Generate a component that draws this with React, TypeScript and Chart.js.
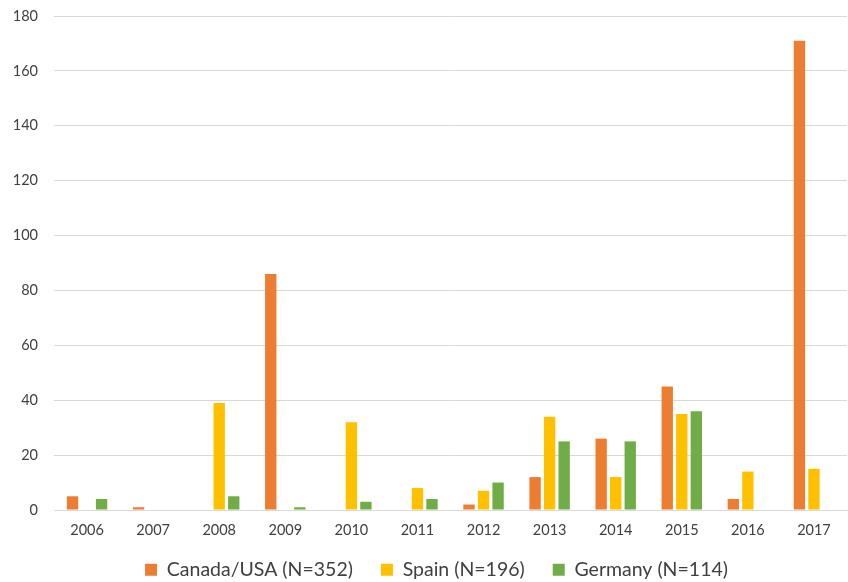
import React, { useEffect, useRef } from "react";
import { Chart, registerables } from "chart.js";

Chart.register(...registerables);

const years = ["2006", "2007", "2008", "2009", "2010", "2011", "2012", "2013", "2014", "2015", "2016", "2017"];
const canadaUsa = [5, 1, 0, 86, 0, 0, 2, 12, 26, 45, 4, 171];
const spain = [0, 0, 39, 0, 32, 8, 7, 34, 12, 35, 14, 15];
const germany = [4, 0, 5, 1, 3, 4, 10, 25, 25, 36, 0, 0];
const seriesLabels = ["Canada/USA (N=352)", "Spain (N=196)", "Germany (N=114)"];
const yMax = 180;
const yStep = 20;

const FONT = "Lato, 'Open Sans', sans-serif";

// nudges the legend row to the reference's place (text centre y≈568, centre x≈437)
const legendNudge = {
  id: "legendNudge",
  afterLayout(chart: any) {
    const lg = chart.legend;
    if (!lg) return;
    const dy = -10;
    const dx = 13;
    lg.top += dy;
    lg.left += dx;
    lg.right += dx;
  },
};

export default function App() {
  const ref = useRef<HTMLCanvasElement | null>(null);
  useEffect(() => {
    document.body.style.margin = "0";
    const ctx = ref.current!;
    const chart = new Chart(ctx, {
      type: "bar",
      data: {
        labels: years,
        datasets: [
          { label: seriesLabels[0], data: canadaUsa, backgroundColor: "#ED7D31" },
          { label: seriesLabels[1], data: spain, backgroundColor: "#FFC000" },
          { label: seriesLabels[2], data: germany, backgroundColor: "#70AD47" },
        ],
      },
      plugins: [legendNudge],
      options: {
        responsive: false,
        animation: false,
        maintainAspectRatio: false,
        datasets: { bar: { categoryPercentage: 0.66, barPercentage: 0.78 } },
        layout: { padding: { top: 16, right: 1, left: 0, bottom: 0 } },
        plugins: {
          tooltip: { enabled: false },
          legend: {
            position: "bottom",
            maxHeight: 40,
            labels: {
              color: "#404040",
              font: { family: FONT, size: 19.5 },
              boxWidth: 12,
              boxHeight: 12,
              padding: 28,
            },
          },
        },
        scales: {
          x: {
            grid: { display: false, drawTicks: false },
            border: { display: true, color: "#d9d9d9", width: 1 },
            ticks: { color: "#404040", font: { family: FONT, size: 14.5 }, padding: 12, maxRotation: 0 },
            afterFit: (s: any) => { s.height = 32; },
          },
          y: {
            min: 0,
            max: yMax,
            grid: { color: "#d9d9d9", lineWidth: 1, drawTicks: true, tickLength: 16, tickColor: "rgba(0,0,0,0)" },
            border: { display: false },
            ticks: { stepSize: yStep, color: "#404040", font: { family: FONT, size: 14.5 }, padding: 0 },
            afterFit: (s: any) => { s.width = 54; },
          },
        },
      },
    });
    return () => chart.destroy();
  }, []);
  return (
    <div style={{ position: "absolute", left: 0, top: 0, width: 848, height: 582 }}>
      <canvas ref={ref} width={848} height={582} />
    </div>
  );
}
